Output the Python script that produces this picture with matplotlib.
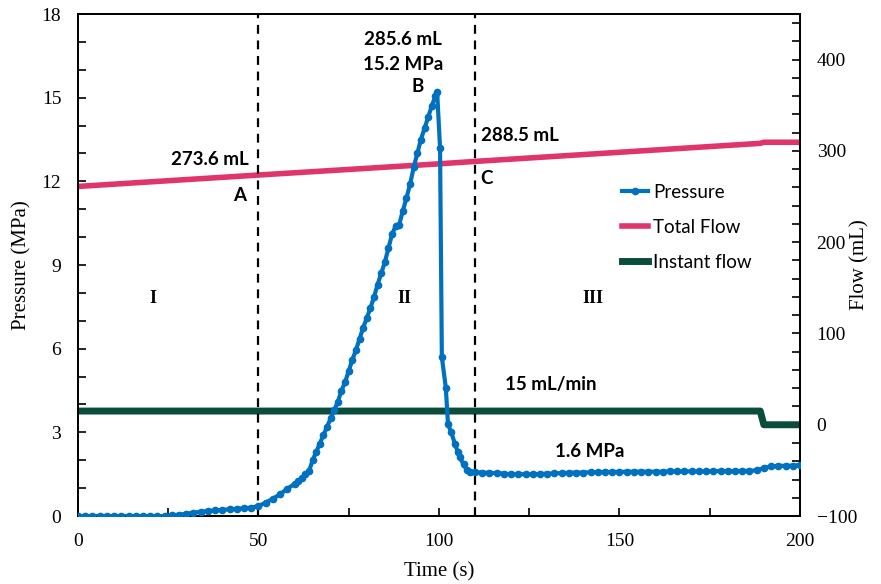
import matplotlib
matplotlib.use('Agg')
import matplotlib.pyplot as plt
from matplotlib.ticker import MultipleLocator

# pressure readings (s, MPa)
time_p = [0, 2, 4, 6, 8, 10, 12, 14, 16, 18, 20, 22, 24, 26, 28, 30, 32, 34, 36, 38,
          40, 42, 44, 46, 48, 50, 52, 54, 56, 58, 60, 61, 62, 63, 64, 65, 66, 67, 68,
          69, 70, 71, 72, 73, 74, 75, 76, 77, 78, 79, 80, 81, 82, 83, 84, 85, 86, 87,
          88, 89, 90, 91, 92, 93, 94, 95, 96, 97, 98, 99, 99.5, 100.3, 100.8, 101.9,
          102.5, 103.4, 104.4, 105.2, 105.8, 106.8, 107.7, 108.6, 110, 112, 114, 116,
          118, 120, 122, 124, 126, 128, 130, 132, 134, 136, 138, 140, 142, 144, 146,
          148, 150, 152, 154, 156, 158, 160, 162, 164, 166, 168, 170, 172, 174, 176,
          178, 180, 182, 184, 186, 188, 190, 192, 194, 196, 198, 200]
pressure = [0, 0, 0, 0, 0, 0, 0, 0, 0, 0, 0, 0, 0, 0.02, 0.05, 0.08, 0.12, 0.15, 0.18, 0.2,
            0.22, 0.24, 0.26, 0.28, 0.3, 0.36, 0.48, 0.62, 0.78, 0.98, 1.15, 1.25, 1.35, 1.5,
            1.6, 2.0, 2.3, 2.6, 2.9, 3.2, 3.5, 3.8, 4.1, 4.5, 4.8, 5.2, 5.6, 5.95, 6.35, 6.75,
            7.1, 7.45, 7.85, 8.3, 8.7, 9.1, 9.6, 10.1, 10.4, 10.45, 10.95, 11.4, 11.9, 12.5,
            13.0, 13.5, 13.9, 14.3, 14.7, 15.05, 15.2, 13.2, 5.7, 4.6, 3.3, 3.0, 2.6, 2.3, 2.1,
            1.85, 1.65, 1.58, 1.57, 1.56, 1.55, 1.54, 1.52, 1.5, 1.5, 1.5, 1.5, 1.51, 1.52,
            1.53, 1.54, 1.55, 1.56, 1.56, 1.57, 1.57, 1.58, 1.58, 1.58, 1.59, 1.59, 1.59, 1.59,
            1.59, 1.59, 1.6, 1.6, 1.6, 1.6, 1.6, 1.6, 1.61, 1.61, 1.61, 1.61, 1.62, 1.62,
            1.64, 1.72, 1.78, 1.8, 1.8, 1.81, 1.82]

# total flow (s, mL)
time_tf = [0, 50, 99, 110, 189, 190, 200]
total_flow = [261.1, 273.6, 285.6, 288.5, 308.3, 309.5, 309.5]

# instant flow (s, mL/min)
time_if = [0, 189, 190, 200]
instant_flow = [15, 15, 0, 0]

serif = 'Liberation Serif'
sans = 'Lato'

fig = plt.figure(figsize=(8.81, 5.84), dpi=100)
ax = fig.add_axes([0.0885, 0.1164, 0.8195, 0.8596])
ax2 = ax.twinx()

ln_p, = ax.plot(time_p, pressure, color='#0070C0', lw=3, marker='o', ms=4.5,
                label='Pressure', zorder=3)
ln_t, = ax2.plot(time_tf, total_flow, color='#E0356B', lw=4, marker='o', ms=1.5,
                 label='Total Flow')
ln_i, = ax2.plot(time_if, instant_flow, color='#0B4D3C', lw=5, label='Instant flow')
ax.set_zorder(ax2.get_zorder() + 1)
ax.patch.set_visible(False)

for xv in (50, 110):
    ax.axvline(xv, color='black', ls=(0, (4, 3)), lw=1.6, zorder=1)

ax.set_xlim(0, 200)
ax.set_ylim(0, 18)
ax2.set_ylim(-100, 450)
ax.xaxis.set_major_locator(MultipleLocator(50))
ax.xaxis.set_minor_locator(MultipleLocator(25))
ax.yaxis.set_major_locator(MultipleLocator(3))
ax.yaxis.set_minor_locator(MultipleLocator(1))
ax2.yaxis.set_major_locator(MultipleLocator(100))
ax2.yaxis.set_minor_locator(MultipleLocator(20))
ax2.set_yticks([-100, 0, 100, 200, 300, 400])

for a in (ax, ax2):
    a.tick_params(which='both', direction='in', length=6, width=1.2)
    a.tick_params(labelsize=14)
    for lbl in a.get_xticklabels() + a.get_yticklabels():
        lbl.set_fontfamily(serif)
    for s in a.spines.values():
        s.set_linewidth(1.3)
ax.tick_params(axis='y', pad=12)
ax2.tick_params(axis='y', pad=12)
ax.tick_params(axis='x', pad=12)

ax.set_xlabel('Time (s)', fontfamily=serif, fontsize=15)
ax.set_ylabel('Pressure (MPa)', fontfamily=serif, fontsize=15)
ax2.set_ylabel('Flow (mL)', fontfamily=serif, fontsize=15)
ax.xaxis.set_label_coords(0.5, -0.093)
ax.yaxis.set_label_coords(-0.064, 0.5)
ax2.yaxis.set_label_coords(1.07, 0.5)

bold = dict(fontfamily=sans, fontweight='bold', fontsize=13.5, ha='center', va='center')
ax.text(36.5, 12.8, '273.6 mL', **bold)
ax.text(44.8, 11.5, 'A', **bold)
ax.text(90, 17.1, '285.6 mL', **bold)
ax.text(90, 16.2, '15.2 MPa', **bold)
ax.text(94.2, 15.4, 'B', **bold)
ax.text(122.5, 13.65, '288.5 mL', **bold)
ax.text(113.2, 12.1, 'C', **bold)
ax.text(131, 4.7, '15 mL/min', **bold)
ax.text(141.8, 2.3, '1.6 MPa', **bold)

rom = dict(fontfamily=serif, fontweight='bold', fontsize=13, ha='center', va='center')
ax.text(20.8, 7.8, 'I', **rom)
ax.text(90.3, 7.8, 'II', **rom)
ax.text(142.7, 7.8, 'III', **rom)

leg = ax.legend(handles=[ln_p, ln_t, ln_i], loc='upper left',
                bbox_to_anchor=(0.73, 0.695), frameon=False,
                prop={'family': sans, 'size': 13.5}, handlelength=1.4,
                handletextpad=0.25, labelspacing=0.95)

fig.savefig('out.png', dpi=100)
